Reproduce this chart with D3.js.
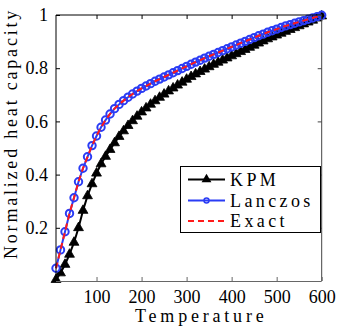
<!DOCTYPE html>
<html><head><meta charset="utf-8">
<script src="https://cdn.jsdelivr.net/npm/d3@7"></script>
<style>body{margin:0;background:#fff}svg{display:block}</style>
</head><body><svg id="c" width="341" height="329"></svg>
<script>
const temps = d3.range(10, 601, 10);
const exact = [0.048,0.117,0.185,0.254,0.313,0.373,0.424,0.467,0.509,0.545,
0.578,0.605,0.628,0.648,0.664,0.678,0.691,0.703,0.714,0.724,
0.733,0.742,0.751,0.759,0.767,0.775,0.783,0.791,0.799,0.807,
0.815,0.823,0.830,0.838,0.845,0.852,0.859,0.866,0.873,0.880,
0.887,0.894,0.901,0.908,0.915,0.922,0.928,0.935,0.941,0.947,
0.953,0.959,0.964,0.969,0.974,0.979,0.984,0.989,0.994,0.999];
const lanczos = exact.slice();
const kpm = [0.005,0.030,0.062,0.100,0.145,0.200,0.265,0.320,0.365,0.405,
0.440,0.468,0.494,0.519,0.543,0.564,0.584,0.602,0.619,0.635,
0.650,0.664,0.677,0.690,0.702,0.714,0.725,0.736,0.747,0.758,
0.768,0.778,0.787,0.796,0.805,0.814,0.822,0.830,0.838,0.846,
0.854,0.862,0.870,0.878,0.886,0.894,0.902,0.910,0.917,0.924,
0.931,0.938,0.945,0.952,0.959,0.966,0.973,0.980,0.988,0.996];
const xTicks = [100,200,300,400,500,600];
const yTicks = [0.2,0.4,0.6,0.8,1];
const seriesNames = ["KPM","Lanczos","Exact"];

const FONT = "'Liberation Serif'";
const svg = d3.select("#c");
const L=56, R=321.7, T=15, B=281;
const x = d3.scaleLinear().domain([10,600]).range([L,R]);
const y = d3.scaleLinear().domain([0,1]).range([B,T]);

const line = d3.line().x(d=>x(d[0])).y(d=>y(d[1]));
const kd = temps.map((t,i)=>[t,kpm[i]]);
const ld = temps.map((t,i)=>[t,lanczos[i]]);
const ed = temps.map((t,i)=>[t,exact[i]]);

const g = svg.append("g");
g.append("path").datum(kd).attr("d",line).attr("fill","none").attr("stroke","#000").attr("stroke-width",2);
const tri = d3.symbol().type(d3.symbolTriangle).size(42);
g.selectAll(".k").data(kd).join("path").attr("transform",d=>`translate(${x(d[0])},${y(d[1])})`)
  .attr("d",tri).attr("fill","#000").attr("stroke","#000").attr("stroke-width",0.8);
g.append("path").datum(ld).attr("d",line).attr("fill","none").attr("stroke","#2a3cf5").attr("stroke-width",2);
g.selectAll(".l").data(ld).join("circle").attr("cx",d=>x(d[0])).attr("cy",d=>y(d[1])).attr("r",3.7)
  .attr("fill","none").attr("stroke","#2a3cf5").attr("stroke-width",2);
g.append("path").datum(ed).attr("d",line).attr("fill","none").attr("stroke","#ff1a1a").attr("stroke-width",2).attr("stroke-dasharray","6,4");

svg.append("line").attr("x1",L).attr("x2",R).attr("y1",T).attr("y2",T).attr("stroke","#000");
svg.append("line").attr("x1",L).attr("x2",L).attr("y1",T).attr("y2",B).attr("stroke","#000");
svg.append("line").attr("x1",L).attr("x2",R).attr("y1",B+0.5).attr("y2",B+0.5).attr("stroke","#666");
svg.append("line").attr("x1",R).attr("x2",R).attr("y1",T).attr("y2",B).attr("stroke","#444");

const xb = d3.axisBottom(x).tickValues(xTicks).tickSize(-4).tickPadding(9).tickFormat(d3.format("d"));
const gx = svg.append("g").attr("transform",`translate(0,${B})`).call(xb);
gx.attr("font-family",FONT).attr("font-size",18);
gx.select(".domain").remove();
gx.selectAll("line").attr("stroke","#666");
gx.selectAll("text").attr("font-family",FONT).attr("font-size",18).attr("fill","#000");
const xt = d3.axisTop(x).tickValues(xTicks).tickSize(-4).tickFormat("");
const gxt = svg.append("g").attr("transform",`translate(0,${T})`).call(xt);
gxt.select(".domain").remove(); gxt.selectAll("line").attr("stroke","#000");

const yl = d3.axisLeft(y).tickValues(yTicks).tickSize(-4).tickPadding(8).tickFormat(d=>d===1?"1":d3.format(".1f")(d));
const gy = svg.append("g").attr("transform",`translate(${L},0)`).call(yl);
gy.attr("font-family",FONT).attr("font-size",18);
gy.select(".domain").remove();
gy.selectAll("text").attr("font-family",FONT).attr("font-size",18).attr("fill","#000");
const yr = d3.axisRight(y).tickValues(yTicks).tickSize(-4).tickFormat("");
const gyr = svg.append("g").attr("transform",`translate(${R},0)`).call(yr);
gyr.select(".domain").remove(); gyr.selectAll("line").attr("stroke","#444");

svg.append("text").attr("x",135).attr("y",322).attr("text-anchor","start")
  .attr("font-family",FONT).attr("font-size",18).attr("letter-spacing","3.8px").text("Temperature");
svg.append("text").attr("transform","translate(17,259) rotate(-90)").attr("text-anchor","start")
  .attr("font-family",FONT).attr("font-size",18).attr("letter-spacing","2.8px").text("Normalized heat capacity");

const lg = svg.append("g");
lg.append("rect").attr("x",180.5).attr("y",166.5).attr("width",140).attr("height",66)
  .attr("fill","#fff").attr("stroke","#000");
const ly = [179.5,200.5,221];
const lx0=188, lx1=225;
lg.append("line").attr("x1",lx0).attr("x2",lx1).attr("y1",ly[0]).attr("y2",ly[0]).attr("stroke","#000").attr("stroke-width",2);
lg.append("path").attr("d",tri).attr("transform",`translate(${(lx0+lx1)/2},${ly[0]})`).attr("fill","#000");
lg.append("line").attr("x1",lx0).attr("x2",lx1).attr("y1",ly[1]).attr("y2",ly[1]).attr("stroke","#2a3cf5").attr("stroke-width",2);
lg.append("circle").attr("cx",(lx0+lx1)/2).attr("cy",ly[1]).attr("r",2.5).attr("fill","none").attr("stroke","#2a3cf5").attr("stroke-width",1.5);
lg.append("line").attr("x1",lx0).attr("x2",lx1).attr("y1",ly[2]).attr("y2",ly[2]).attr("stroke","#ff1a1a").attr("stroke-width",2).attr("stroke-dasharray","6,4");
seriesNames.forEach((n,i)=>{
  lg.append("text").attr("x",230).attr("y",ly[i]).attr("dy","0.35em").attr("font-family",FONT).attr("font-size",18)
    .attr("letter-spacing","3.4px").text(n);
});
</script></body></html>
